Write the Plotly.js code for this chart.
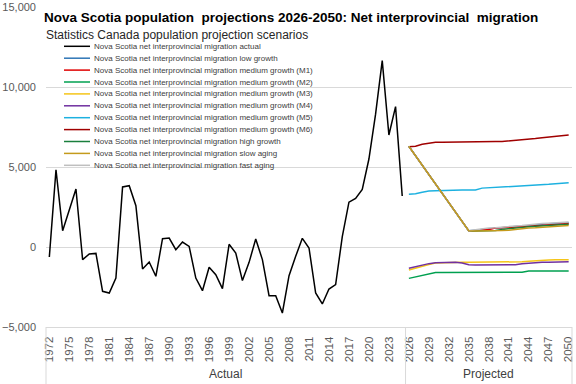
<!DOCTYPE html>
<html><head><meta charset="utf-8">
<script src="https://cdn.plot.ly/plotly-3.0.1.min.js"></script>
<style>html,body{margin:0;padding:0;background:#fff}#chart{width:576px;height:384px}</style>
</head><body><div id="chart"></div>
<script>
// ---- data ----
const yearsActual = [1972,1973,1974,1975,1976,1977,1978,1979,1980,1981,1982,1983,1984,1985,1986,1987,1988,1989,1990,1991,1992,1993,1994,1995,1996,1997,1998,1999,2000,2001,2002,2003,2004,2005,2006,2007,2008,2009,2010,2011,2012,2013,2014,2015,2016,2017,2018,2019,2020,2021,2022,2023,2024,2025];
const actual = [-625,4830,1020,2330,3625,-790,-440,-400,-2770,-2875,-1940,3750,3830,2580,-1375,-940,-1830,520,560,-170,310,40,-1940,-2730,-1270,-1730,-2600,170,-375,-2100,-960,500,-790,-3040,-3040,-4125,-1790,-580,540,-60,-2875,-3560,-2625,-2350,650,2800,3040,3600,5500,8300,11650,7000,8770,3190];
const yearsProjected = [2026,2027,2028,2029,2030,2031,2032,2033,2034,2035,2036,2037,2038,2039,2040,2041,2042,2043,2044,2045,2046,2047,2048,2049,2050];
const lowGrowth  = [6290,5700,5120,4520,3950,3350,2760,2170,1590,1010,1050,1100,1150,1180,1200,1250,1300,1330,1350,1400,1420,1450,1480,1500,1520];
const mediumM1   = [6290,5700,5120,4520,3950,3350,2760,2170,1590,1010,1030,1060,1100,1180,1200,1220,1250,1280,1300,1330,1350,1380,1400,1430,1450];
const mediumM2   = [-1960,-1870,-1790,-1700,-1600,-1600,-1600,-1600,-1600,-1600,-1600,-1600,-1600,-1600,-1600,-1600,-1600,-1580,-1500,-1500,-1500,-1500,-1500,-1500,-1500];
const mediumM3   = [-1440,-1310,-1190,-1090,-1000,-980,-970,-960,-960,-960,-960,-960,-960,-960,-960,-960,-950,-920,-890,-850,-810,-810,-800,-800,-800];
const mediumM4   = [-1330,-1220,-1120,-1040,-980,-960,-960,-960,-1000,-1110,-1120,-1120,-1120,-1120,-1120,-1120,-1110,-1040,-1000,-970,-960,-950,-940,-930,-920];
const mediumM5   = [3300,3330,3420,3500,3520,3540,3550,3550,3560,3560,3560,3680,3700,3720,3760,3780,3800,3830,3860,3880,3900,3920,3960,4000,4020];
const mediumM6   = [6270,6300,6420,6500,6540,6550,6560,6560,6570,6570,6580,6580,6580,6590,6590,6620,6680,6700,6720,6780,6830,6880,6930,6980,7000];
const highGrowth = [6290,5700,5120,4520,3950,3350,2760,2170,1590,1010,1000,1010,1020,1030,1100,1150,1200,1250,1270,1290,1310,1330,1360,1400,1420];
const slowAging  = [6290,5700,5120,4520,3950,3350,2760,2170,1590,1010,1000,1000,1010,1020,1030,1050,1100,1150,1180,1200,1230,1260,1300,1330,1350];
const fastAging  = [6290,5700,5120,4520,3950,3350,2760,2170,1590,1010,1080,1150,1180,1200,1250,1280,1320,1350,1400,1440,1470,1490,1520,1540,1560];
const seriesNames = [
  'Nova Scotia net interprovincial migration actual',
  'Nova Scotia net interprovincial migration low growth',
  'Nova Scotia net interprovincial migration medium growth (M1)',
  'Nova Scotia net interprovincial migration medium growth (M2)',
  'Nova Scotia net interprovincial migration medium growth (M3)',
  'Nova Scotia net interprovincial migration medium growth (M4)',
  'Nova Scotia net interprovincial migration medium growth (M5)',
  'Nova Scotia net interprovincial migration medium growth (M6)',
  'Nova Scotia net interprovincial migration high growth',
  'Nova Scotia net interprovincial migration slow aging',
  'Nova Scotia net interprovincial migration fast aging'
];
const groupLabels = ['Actual','Projected'];
const titleText = 'Nova Scotia population  projections 2026-2050: Net interprovincial  migration';
const subtitleText = 'Statistics Canada population projection scenarios';

// ---- styles ----
const colors = ['#000000','#2E75B6','#E00000','#00A050','#F5C518','#7030A0','#1DB1E0','#A00000','#1A7F3C','#C49A1C','#BFBFBF'];
const seriesValues = [actual,lowGrowth,mediumM1,mediumM2,mediumM3,mediumM4,mediumM5,mediumM6,highGrowth,slowAging,fastAging];
const drawOrder = [1,2,3,4,5,6,7,8,10,9,0];

const W=576,H=384,ML=46,MR=4,MT=7,MB=57;
const PW=W-ML-MR, PH=H-MT-MB;
const px = v => (v-ML)/PW;
const py = v => (MT+PH-v)/PH;

const traces = drawOrder.map(i => ({
  type:'scatter', mode:'lines',
  x: i===0 ? yearsActual : yearsProjected,
  y: seriesValues[i],
  name: seriesNames[i],
  line:{color:colors[i], width:1.5},
  showlegend:false
}));

const allYears = yearsActual.concat(yearsProjected);
const xMin = allYears[0]-0.5, xMax = allYears[allYears.length-1]+0.5;
const split = yearsActual[yearsActual.length-1]+0.5;
const tickYears = allYears.filter(y => (y-allYears[0])%3===0);

const shapes = [
  {type:'line', xref:'paper', yref:'paper', x0:0, x1:0, y0:-MB/PH, y1:0, line:{color:'#D9D9D9', width:1}},
  {type:'line', xref:'paper', yref:'paper', x0:(split-xMin)/(xMax-xMin), x1:(split-xMin)/(xMax-xMin), y0:-MB/PH, y1:0, line:{color:'#D9D9D9', width:1}},
  {type:'line', xref:'paper', yref:'paper', x0:1, x1:1, y0:-MB/PH, y1:0, line:{color:'#D9D9D9', width:1}},
  {type:'rect', xref:'paper', yref:'paper', x0:px(62), x1:px(323), y0:py(165), y1:py(40), fillcolor:'#ffffff', line:{width:0}, layer:'between'}
];
const annotations = [
  {xref:'paper', yref:'paper', x:(((xMin+split)/2)-xMin)/(xMax-xMin), y:-(374-MT-PH)/PH, text:groupLabels[0], showarrow:false, xanchor:'center', yanchor:'middle', font:{size:12, color:'#404040'}},
  {xref:'paper', yref:'paper', x:(((split+xMax)/2)-xMin)/(xMax-xMin), y:-(374-MT-PH)/PH, text:groupLabels[1], showarrow:false, xanchor:'center', yanchor:'middle', font:{size:12, color:'#404040'}},
  {xref:'paper', yref:'paper', x:px(44), y:py(35), text:subtitleText, showarrow:false, xanchor:'left', yanchor:'middle', font:{size:12, color:'#262626'}}
];
seriesNames.forEach((n,i) => {
  const yy = 46.3 + i*11.9;
  shapes.push({type:'line', xref:'paper', yref:'paper', x0:px(64), x1:px(90), y0:py(yy), y1:py(yy), line:{color:colors[i], width:1.5}});
  annotations.push({xref:'paper', yref:'paper', x:px(92), y:py(yy), text:n, showarrow:false, xanchor:'left', yanchor:'middle', font:{size:8, color:'#404040'}});
});

const layout = {
  width:W, height:H, margin:{l:ML, r:MR, t:MT, b:MB, pad:0},
  paper_bgcolor:'#ffffff', plot_bgcolor:'#ffffff', showlegend:false,
  font:{family:'Liberation Sans, Arial, sans-serif', color:'#595959'},
  title:{text:'<b>'+titleText+'</b>', font:{family:'Liberation Sans, Arial', size:13.5, color:'#000000'},
    xref:'container', yref:'container', x:44/W, xanchor:'left', y:1-17/H, yanchor:'middle'},
  xaxis:{range:[xMin,xMax], tickmode:'array', tickvals:tickYears, ticktext:tickYears.map(String), tickangle:-90,
    showgrid:false, zeroline:false, showline:true, linecolor:'#D9D9D9', linewidth:1, ticks:'', ticklabelstandoff:4,
    tickfont:{size:11.5, color:'#595959'}},
  yaxis:{range:[-5000,15000], dtick:5000, tickformat:',', gridcolor:'#D9D9D9', gridwidth:1, zeroline:false, showline:false,
    ticks:'', ticklabelstandoff:9, tickfont:{size:11, color:'#595959'}},
  shapes:shapes, annotations:annotations
};
Plotly.newPlot('chart', traces, layout, {staticPlot:true});
</script></body></html>
